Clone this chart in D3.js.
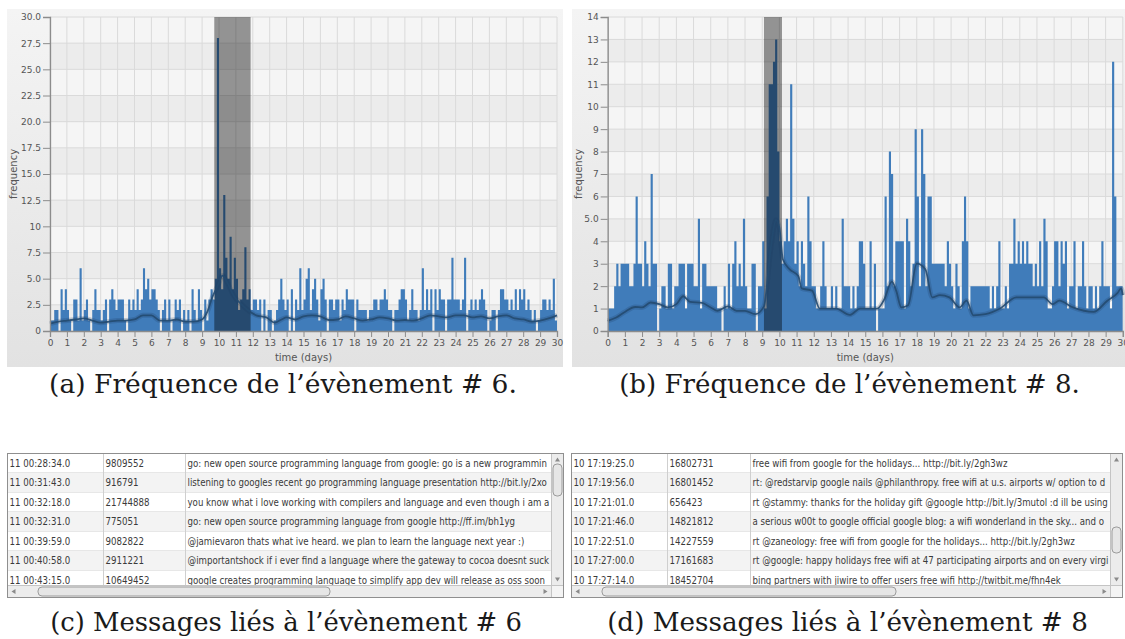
<!DOCTYPE html>
<html>
<head>
<meta charset="utf-8">
<script src="https://cdn.jsdelivr.net/npm/d3@7"></script>
<style>
  body { margin: 0; background: #fff; }
  svg { display: block; }
</style>
</head>
<body>
<svg id="fig" width="1125" height="639"></svg>
<script>
// ---------- Event #6: tweet counts, 3-hour bins (8 per day) ----------
const countsA_days0to9 = [
  1,1,2,2,0,4,2,4,  2,1,0,3,3,1,6,1,  2,3,1,0,2,4,2,2,  1,2,3,0,3,4,3,2,  3,3,3,1,0,3,2,3,
  2,4,2,3,6,4,5,3,  4,4,3,2,0,2,3,1,  3,0,1,3,2,3,0,2,  1,2,0,4,2,1,4,2,  0,3,1,3,4,3,5,28
];
const countsA_days10to19 = [
  6,4,13,7,5,9,4,7,  5,2,3,4,8,3,4,2,  3,3,2,3,0,3,0,2,  2,0,1,2,3,5,3,2,  3,0,4,0,3,2,6,2,
  3,5,6,2,4,5,3,1,  4,5,3,0,3,3,2,3,  3,1,3,2,4,3,3,3,  0,3,2,2,2,2,1,2,  2,3,3,2,3,3,4,3
];
const countsA_days20to29 = [
  2,2,0,2,2,3,4,4,  3,1,2,4,2,2,1,2,  6,2,4,2,4,0,4,2,  4,3,3,0,3,3,7,3,  3,3,2,3,7,0,2,3,
  2,3,2,3,4,3,2,0,  1,2,2,0,2,4,4,3,  3,2,3,2,4,2,4,3,  4,2,3,2,1,2,0,1,  2,3,3,2,3,2,5,1
];
// smoothed trend for event #6
const trendA_days = [0,0.5,1,1.5,2,2.5,3,3.5,4,4.5,5,5.5,6,6.5,7,7.5,8,8.5,9,9.3,9.6,10,10.2,10.5,10.9,11.3,11.7,12.2,12.8,13.3,13.7,14,14.5,15,15.5,16,16.5,17,17.5,18,18.5,19,19.5,20,20.5,21,21.5,22,22.5,23,23.5,24,24.5,25,25.5,26,26.5,27,27.5,28,28.5,29,29.5,30];
const trendA_vals = [0.7,0.9,1.0,1.1,1.2,1.0,0.8,0.9,1.0,1.0,1.1,1.5,1.5,1.0,1.0,1.1,0.9,0.9,1.1,1.8,3.2,4.6,5.3,4.6,3.3,2.6,2.0,1.5,1.3,0.8,1.1,1.3,1.1,1.4,1.5,1.4,1.05,1.1,1.4,1.2,1.0,1.1,1.3,1.2,1.0,1.05,1.0,1.2,1.5,1.4,1.3,1.5,1.5,1.3,1.4,1.2,1.4,1.5,1.2,1.1,0.9,1.0,1.2,1.5];

// ---------- Event #8 ----------
const countsB_days0to9 = [
  1,1,1,2,3,2,3,3,  3,3,2,2,3,6,3,3,  2,4,3,2,7,3,3,0,  1,2,2,1,3,3,1,2,  2,3,3,3,1,3,3,3,
  2,2,5,1,3,3,2,2,  2,2,2,1,1,0,2,1,  3,1,3,4,2,3,2,5,  2,1,1,3,3,0,2,2,  4,1,6,11,11,12,13,8
];
const countsB_days10to19 = [
  4,3,4,5,4,11,5,3,  4,2,4,3,2,6,4,2,  2,1,1,2,4,2,1,1,  2,1,2,1,1,5,2,2,  2,1,2,1,2,4,4,3,
  1,1,4,1,3,0,1,1,  1,6,2,8,7,2,4,4,  4,4,1,5,4,2,3,9,  6,2,9,7,2,6,6,3,  3,3,3,3,3,2,4,3
];
const countsB_days20to29 = [
  2,1,3,2,1,4,6,4,  1,2,2,2,2,2,2,2,  2,2,1,2,1,2,4,1,  1,2,1,3,3,5,3,4,  3,4,3,4,3,3,2,3,
  2,4,2,5,4,1,1,2,  4,4,2,4,3,4,1,2,  2,4,1,2,2,4,2,1,  2,2,1,2,1,2,4,2,  2,2,1,12,6,2,2,2
];
const trendB_days = [0,0.5,1,1.6,2,2.5,3,3.5,4,4.4,4.8,5.5,6,6.4,7,7.5,8,8.6,9.1,9.5,9.8,10.0,10.2,10.6,11.1,11.3,11.9,12.35,13.3,14.1,14.7,15.7,16.1,16.55,16.8,17.1,17.5,18.0,18.5,18.9,19.35,19.9,20.5,20.9,21.3,22.0,22.85,23.8,24.8,25.4,25.9,26.3,27.1,28.3,29.1,29.7,29.9,30];
const trendB_vals = [0.45,0.6,0.85,1.07,1.05,1.27,1.2,1.05,1.2,1.55,1.3,1.25,1.05,0.9,1.1,0.9,0.9,0.75,1.1,3.7,4.95,4.6,3.2,2.75,2.45,1.9,1.8,1.0,1.0,0.72,1.0,1.0,1.4,2.2,1.8,1.05,1.15,3.0,2.75,1.5,1.6,1.5,1.05,1.35,0.7,0.75,1.0,1.5,1.5,1.5,1.2,1.35,1.05,0.85,1.35,1.7,1.9,1.6];

// ---------- axes ----------
const dayTicks = d3.range(0, 31);
const yTicksA = [0,2.5,5,7.5,10,12.5,15,17.5,20,22.5,25,27.5,30];
const yLabelsA = ["0","2.5","5.0","7.5","10","12.5","15.0","17.5","20.0","22.5","25.0","27.5","30.0"];
const yTicksB = d3.range(0, 15);
const yLabelsB = ["0","1","2","3","4","5.0","6","7","8","9","10","11","12","13","14"];

// burst windows (days)
const windowA = [9.72, 11.87];
const windowB = [9.1, 10.15];

// ---------- message tables (text as far as the column shows it) ----------
const msgTimesC = ["11 00:28:34.0","11 00:31:43.0","11 00:32:18.0","11 00:32:31.0","11 00:39:59.0","11 00:40:58.0","11 00:43:15.0"];
const msgUsersC = ["9809552","916791","21744888","775051","9082822","2911221","10649452"];
const msgTextsC = [
  "go: new open source programming language from google: go is a new programmin",
  "listening to googles recent go programming language presentation http://bit.ly/2xo",
  "you know what i love working with compilers and language and even though i am a",
  "go: new open source programming language from google http://ff.im/bh1yg",
  "@jamievaron thats what ive heard. we plan to learn the language next year :)",
  "@importantshock if i ever find a language where the gateway to cocoa doesnt suck",
  "google creates programming language to simplify app dev  will release as oss soon"
];
const msgTimesD = ["10 17:19:25.0","10 17:19:56.0","10 17:21:01.0","10 17:21:46.0","10 17:22:51.0","10 17:27:00.0","10 17:27:14.0"];
const msgUsersD = ["16802731","16801452","656423","14821812","14227559","17161683","18452704"];
const msgTextsD = [
  "free wifi from google for the holidays... http://bit.ly/2gh3wz",
  "rt: @redstarvip google nails @philanthropy. free wifi at u.s. airports w/ option to d",
  "rt @stammy: thanks for the holiday gift @google http://bit.ly/3mutol :d ill be using",
  "a serious w00t to google  official google blog: a wifi wonderland in the sky... and o",
  "rt @zaneology: free wifi from google for the holidays... http://bit.ly/2gh3wz",
  "rt @google: happy holidays free wifi at 47 participating airports and on every virgi",
  "bing partners with jiwire to offer users free wifi http://twitbit.me/fhn4ek"
];

const captions = [
  "(a) Fréquence de l’évènement # 6.",
  "(b) Fréquence de l’évènement # 8.",
  "(c) Messages liés à l’évènement # 6",
  "(d) Messages liés à l’évènement # 8"
];

const BINS_PER_DAY = 8;
const svg = d3.select("#fig");
const defs = svg.append("defs");

const pg = defs.append("linearGradient").attr("id", "panelBg").attr("x1", 0).attr("y1", 0).attr("x2", 0).attr("y2", 1);
pg.append("stop").attr("offset", "0%").attr("stop-color", "#f4f4f4");
pg.append("stop").attr("offset", "100%").attr("stop-color", "#e2e2e2");
defs.append("filter").attr("id", "soft").append("feGaussianBlur").attr("stdDeviation", 0.5);

function drawChart(id, o) {
  const g = svg.append("g");
  g.append("rect").attr("x", o.panel[0]).attr("y", o.panel[1])
    .attr("width", o.panel[2]).attr("height", o.panel[3]).attr("fill", "url(#panelBg)");

  const x = d3.scaleLinear().domain([0, 30]).range([o.plot[0], o.plot[1]]);
  const y = d3.scaleLinear().domain([0, o.yMax]).range([o.plot[3], o.plot[2]]);

  defs.append("clipPath").attr("id", "clip" + id).append("rect")
    .attr("x", x(0)).attr("y", y(o.yMax)).attr("width", x(30) - x(0)).attr("height", y(0) - y(o.yMax));

  // alternating bands
  for (let i = 0; i < o.yTicks.length - 1; i++) {
    const a = o.yTicks[i], b = o.yTicks[i + 1];
    const fromTop = o.yTicks.length - 2 - i;
    g.append("rect").attr("x", x(0)).attr("width", x(30) - x(0))
      .attr("y", y(b)).attr("height", y(a) - y(b))
      .attr("fill", fromTop % 2 === 0 ? "#f5f5f5" : "#ececec");
  }
  // grid
  g.append("g").selectAll("line").data(dayTicks).join("line")
    .attr("x1", d => x(d)).attr("x2", d => x(d)).attr("y1", y(o.yMax)).attr("y2", y(0))
    .attr("stroke", "#dadada").attr("stroke-width", 1);
  g.append("g").selectAll("line").data(o.yTicks).join("line")
    .attr("x1", x(0)).attr("x2", x(30)).attr("y1", d => y(d)).attr("y2", d => y(d))
    .attr("stroke", "#dadada").attr("stroke-width", 1);

  // counts as a step area
  const pts = o.counts.map((v, i) => [i / BINS_PER_DAY, v]);
  pts.push([30, o.counts[o.counts.length - 1]]);
  const area = d3.area().curve(d3.curveStepAfter)
    .x(d => x(d[0])).y0(y(0)).y1(d => y(d[1]));
  g.append("path").datum(pts).attr("d", area)
    .attr("fill", "#3f7cba").attr("clip-path", `url(#clip${id})`).attr("filter", "url(#soft)");

  // burst window
  g.append("rect").attr("x", x(o.window[0])).attr("width", x(o.window[1]) - x(o.window[0]))
    .attr("y", y(o.yMax)).attr("height", y(0) - y(o.yMax))
    .attr("fill", "#000").attr("fill-opacity", 0.4);

  // smoothed trend
  const line = d3.line().curve(d3.curveMonotoneX).x(d => x(d[0])).y(d => y(d[1]));
  const tr = o.trendDays.map((d, i) => [d, o.trendVals[i]]);
  g.append("path").datum(tr).attr("d", line).attr("fill", "none")
    .attr("stroke", "#1d3d5e").attr("stroke-width", 5).attr("stroke-opacity", 0.22);
  g.append("path").datum(tr).attr("d", line).attr("fill", "none")
    .attr("stroke", "#234a70").attr("stroke-width", 1.8).attr("stroke-opacity", 0.9);

  // axes
  const yAxis = d3.axisLeft(y).tickValues(o.yTicks)
    .tickFormat((d, i) => o.yLabels[i]).tickSize(7).tickPadding(2);
  const ya = g.append("g").attr("transform", `translate(${x(0)},0)`).call(yAxis);
  const xAxis = d3.axisBottom(x).tickValues(dayTicks).tickFormat(d3.format("d")).tickSize(6).tickPadding(3);
  const xa = g.append("g").attr("transform", `translate(0,${y(0)})`).call(xAxis);
  [ya, xa].forEach(a => {
    a.select(".domain").attr("stroke", "#8c8c8c").attr("stroke-width", 1.3);
    a.selectAll(".tick line").attr("stroke", "#8c8c8c");
    a.selectAll("text").attr("fill", "#555").attr("font-family", "DejaVu Sans").attr("font-size", 9);
  });

  g.append("text").attr("transform", `translate(${o.panel[0] + 10},${(y(0) + y(o.yMax)) / 2}) rotate(-90)`)
    .attr("text-anchor", "middle").attr("font-family", "DejaVu Sans").attr("font-size", 10)
    .attr("fill", "#555").text("frequency");
  g.append("text").attr("x", (x(0) + x(30)) / 2).attr("y", y(0) + 30)
    .attr("text-anchor", "middle").attr("font-family", "DejaVu Sans").attr("font-size", 10)
    .attr("fill", "#555").text("time (days)");
}

drawChart("A", {
  panel: [7, 9, 556, 358], plot: [50, 557, 17, 331], yMax: 30,
  yTicks: yTicksA, yLabels: yLabelsA,
  counts: countsA_days0to9.concat(countsA_days10to19, countsA_days20to29),
  trendDays: trendA_days, trendVals: trendA_vals, window: windowA
});
drawChart("B", {
  panel: [572, 9, 553, 358], plot: [607.7, 1122.8, 17, 331], yMax: 14,
  yTicks: yTicksB, yLabels: yLabelsB,
  counts: countsB_days0to9.concat(countsB_days10to19, countsB_days20to29),
  trendDays: trendB_days, trendVals: trendB_vals, window: windowB
});

// ---------- tables ----------
function drawTable(id, o) {
  const g = svg.append("g");
  const rh = 19.5, sb = 12;
  const innerW = o.w - sb, innerH = o.h - sb;
  defs.append("clipPath").attr("id", "tclip" + id).append("rect")
    .attr("x", o.x).attr("y", o.y).attr("width", innerW).attr("height", innerH);
  const body = g.append("g").attr("clip-path", `url(#tclip${id})`);
  body.append("rect").attr("x", o.x).attr("y", o.y).attr("width", innerW).attr("height", innerH).attr("fill", "#fff");
  const cols = [o.x, o.x + o.c1, o.x + o.c2, o.x + innerW];
  o.times.forEach((t, i) => {
    const ry = o.y + i * rh;
    body.append("rect").attr("x", o.x).attr("y", ry).attr("width", innerW).attr("height", rh)
      .attr("fill", i % 2 === 0 ? "#ffffff" : "#f3f3f3");
    body.append("line").attr("x1", o.x).attr("x2", o.x + innerW).attr("y1", ry + rh).attr("y2", ry + rh)
      .attr("stroke", "#cfcfcf");
    const cells = [t, o.users[i], o.texts[i]];
    cells.forEach((c, j) => {
      const cid = `cc${id}${j}`;
      if (i === 0) {
        defs.append("clipPath").attr("id", cid).append("rect")
          .attr("x", cols[j]).attr("y", o.y).attr("width", cols[j + 1] - cols[j] - 1).attr("height", innerH);
      }
      body.append("text").attr("x", cols[j] + 2).attr("y", ry + rh / 2 + 3.5)
        .attr("clip-path", `url(#${cid})`)
        .attr("font-family", "DejaVu Sans Condensed, DejaVu Sans").attr("font-size", 9.6)
        .attr("fill", "#3a3a3a").text(c);
    });
  });
  [cols[1], cols[2]].forEach(cx => body.append("line").attr("x1", cx).attr("x2", cx)
    .attr("y1", o.y).attr("y2", o.y + innerH).attr("stroke", "#cfcfcf"));

  // vertical scrollbar
  const vx = o.x + innerW;
  g.append("rect").attr("x", vx).attr("y", o.y).attr("width", sb).attr("height", innerH).attr("fill", "#ececec").attr("stroke", "#c4c4c4");
  g.append("rect").attr("x", vx + 1.5).attr("y", o.vThumb[0]).attr("width", sb - 3).attr("height", o.vThumb[1] - o.vThumb[0])
    .attr("rx", 4).attr("fill", "#e6e6e6").attr("stroke", "#9c9c9c");
  g.append("path").attr("d", `M${vx + 3.5},${o.y + 8} L${vx + sb / 2},${o.y + 4} L${vx + sb - 3.5},${o.y + 8} Z`).attr("fill", "#8a8a8a");
  g.append("path").attr("d", `M${vx + 3.5},${o.y + innerH - 8} L${vx + sb / 2},${o.y + innerH - 4} L${vx + sb - 3.5},${o.y + innerH - 8} Z`).attr("fill", "#8a8a8a");
  // horizontal scrollbar
  const hy = o.y + innerH;
  g.append("rect").attr("x", o.x).attr("y", hy).attr("width", innerW).attr("height", sb).attr("fill", "#ececec").attr("stroke", "#c4c4c4");
  g.append("rect").attr("x", o.hThumb[0]).attr("y", hy + 1.5).attr("width", o.hThumb[1] - o.hThumb[0]).attr("height", sb - 3)
    .attr("rx", 4).attr("fill", "#e6e6e6").attr("stroke", "#9c9c9c");
  g.append("path").attr("d", `M${o.x + 8},${hy + 3.5} L${o.x + 4},${hy + sb / 2} L${o.x + 8},${hy + sb - 3.5} Z`).attr("fill", "#8a8a8a");
  g.append("path").attr("d", `M${o.x + innerW - 8},${hy + 3.5} L${o.x + innerW - 4},${hy + sb / 2} L${o.x + innerW - 8},${hy + sb - 3.5} Z`).attr("fill", "#8a8a8a");
  g.append("rect").attr("x", vx).attr("y", hy).attr("width", sb).attr("height", sb).attr("fill", "#f4f4f4").attr("stroke", "#c4c4c4");
  g.append("rect").attr("x", o.x).attr("y", o.y).attr("width", o.w).attr("height", o.h)
    .attr("fill", "none").attr("stroke", "#8f8f8f");
}

drawTable("C", { x: 7.5, y: 453.5, w: 556, h: 144, c1: 96, c2: 178,
  times: msgTimesC, users: msgUsersC, texts: msgTextsC, vThumb: [464, 496], hThumb: [38, 330] });
drawTable("D", { x: 571.5, y: 453.5, w: 551, h: 144, c1: 96, c2: 179,
  times: msgTimesD, users: msgUsersD, texts: msgTextsD, vThumb: [527, 553], hThumb: [602, 896] });

// ---------- captions ----------
const capPos = [[283, 393, 468], [849.5, 393, 461], [286, 631, 472], [847.5, 631, 481]];
captions.forEach((c, i) => {
  const t = svg.append("text").attr("x", capPos[i][0]).attr("y", capPos[i][1])
    .attr("text-anchor", "middle").attr("font-family", "DejaVu Serif").attr("font-size", 22)
    .attr("fill", "#1a1a1a").text(c);
  const w = t.node().getComputedTextLength();
  t.attr("font-size", 22 * capPos[i][2] / w);
});
</script>
</body>
</html>
